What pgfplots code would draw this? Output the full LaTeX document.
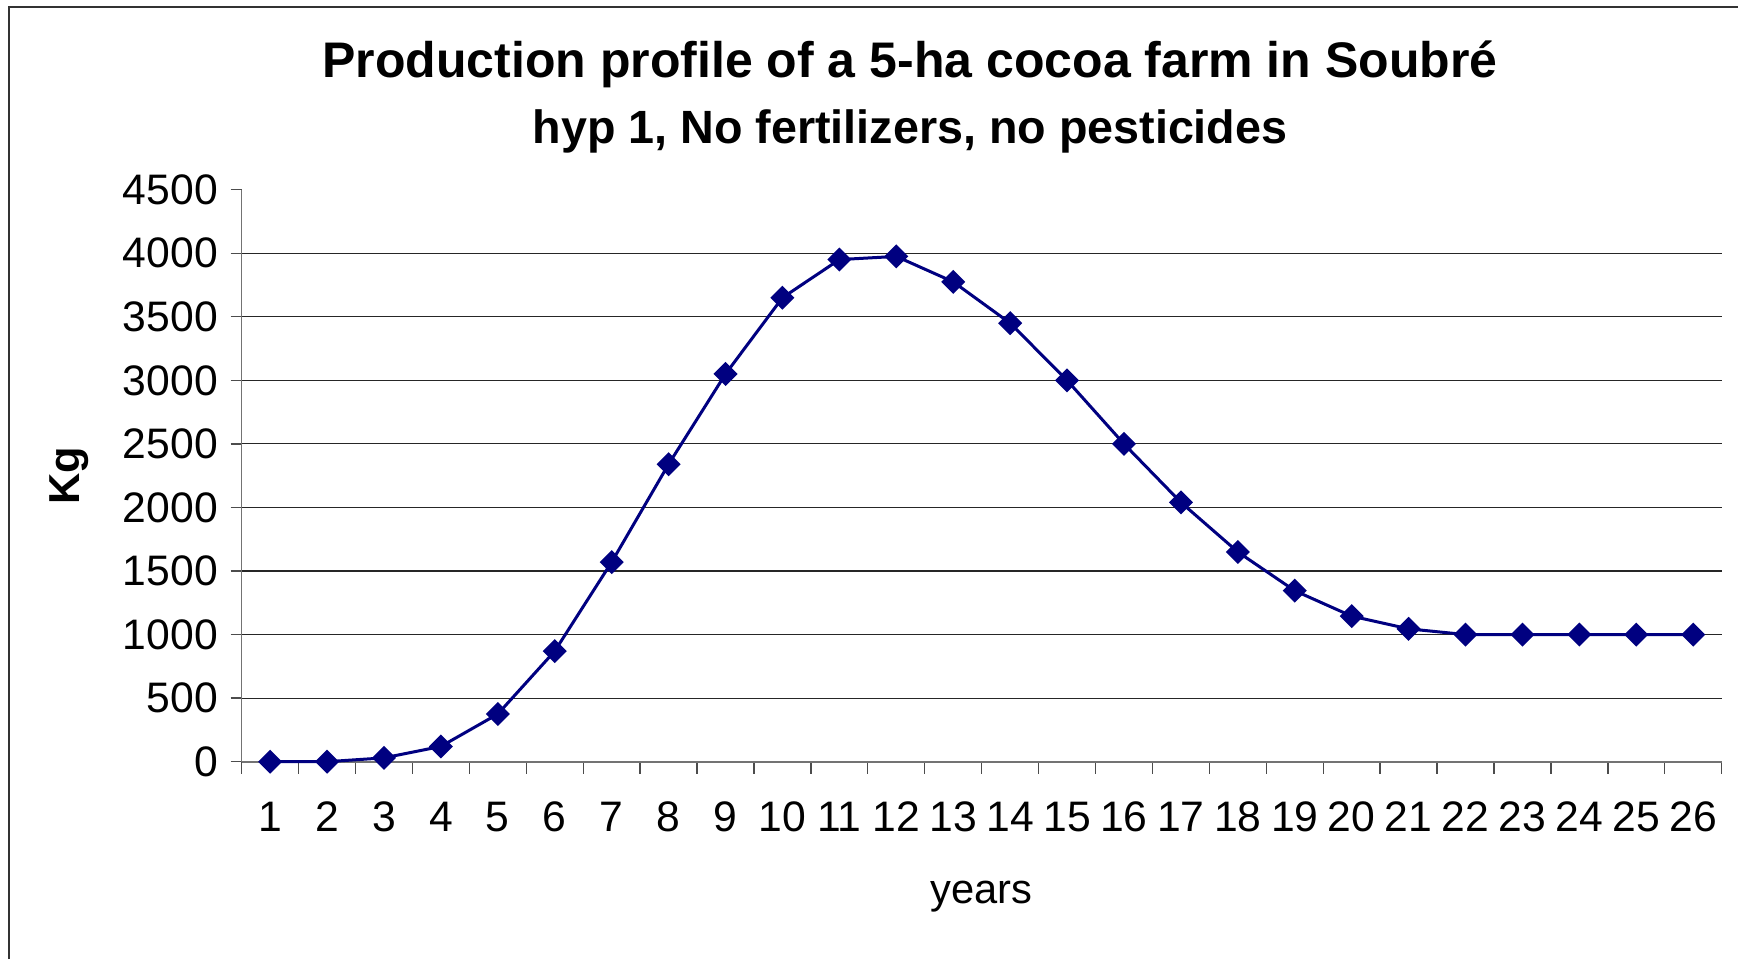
\documentclass[border=0pt]{standalone}
\usepackage{pgfplots}
\pgfplotsset{compat=1.18}
\usepackage{fontspec}
\setmainfont{Liberation Sans}
\definecolor{navyline}{RGB}{0,0,128}

\begin{document}
\begin{tikzpicture}
    % page frame: axis box at origin, 1 px = 0.3pt
    \path[use as bounding box] (-72.5pt,-59.2pt) rectangle (448.9pt,228.5pt);
    \draw[line width=0.8pt, black!80] (-69.8pt,-59.2pt) -- (-69.8pt,226.4pt) -- (448.9pt,226.4pt);

    \node[font=\fontsize{15}{18}\selectfont\bfseries] at (200.5pt,209.3pt) {Production profile of a 5-ha cocoa farm in Soubré};
    \node[font=\fontsize{14}{17}\selectfont\bfseries] at (200.5pt,189.2pt) {hyp 1, No fertilizers, no pesticides};

    \begin{axis}[
        at={(0,0)}, anchor=south west,
        scale only axis,
        width=444pt, height=171.6pt,
        xmin=0.5, xmax=26.5,
        ymin=0, ymax=4500,
        axis x line=bottom, axis y line=left,
        axis line style={-, black!55, line width=0.5pt},
        xtick={1,...,26},
        major x tick style={draw=none},
        minor xtick={0.5,1.5,...,26.5},
        minor tick length=3.6pt,
        ytick={0,500,...,4500},
        major tick length=3.3pt,
        tick align=outside,
        tick style={black!70, line width=0.4pt},
        extra y ticks={500,1000,...,4000},
        extra y tick labels={},
        extra y tick style={grid=major, major tick length=0pt},
        grid style={black!85, line width=0.35pt},
        tick label style={font=\fontsize{12.8}{15}\selectfont},
        /pgf/number format/assume math mode=true,
        scaled y ticks=false,
        yticklabel style={/pgf/number format/1000 sep={}, xshift=-0.3pt},
        xticklabel style={yshift=-5.2pt},
        xlabel={years},
        ylabel={\textbf{Kg}},
        xlabel style={at={(axis description cs:0.5,-0.236)}, anchor=center, font=\fontsize{12.5}{15}\selectfont},
        ylabel style={at={(axis description cs:-0.1167,0.5)}, anchor=center, font=\fontsize{13}{15}\selectfont},
        clip=false,
    ]
        \addplot[navyline, line width=0.9pt, mark=square*, mark size=2.1pt,
                 mark options={rotate=45, solid, fill=navyline}] coordinates {
            (1,0) (2,0) (3,30) (4,120) (5,375) (6,870) (7,1570) (8,2340)
            (9,3050) (10,3650) (11,3950) (12,3975) (13,3775) (14,3450)
            (15,3000) (16,2500) (17,2040) (18,1650) (19,1345) (20,1145)
            (21,1045) (22,1000) (23,1000) (24,1000) (25,1000) (26,1000)
        };
    \end{axis}
\end{tikzpicture}
\end{document}
